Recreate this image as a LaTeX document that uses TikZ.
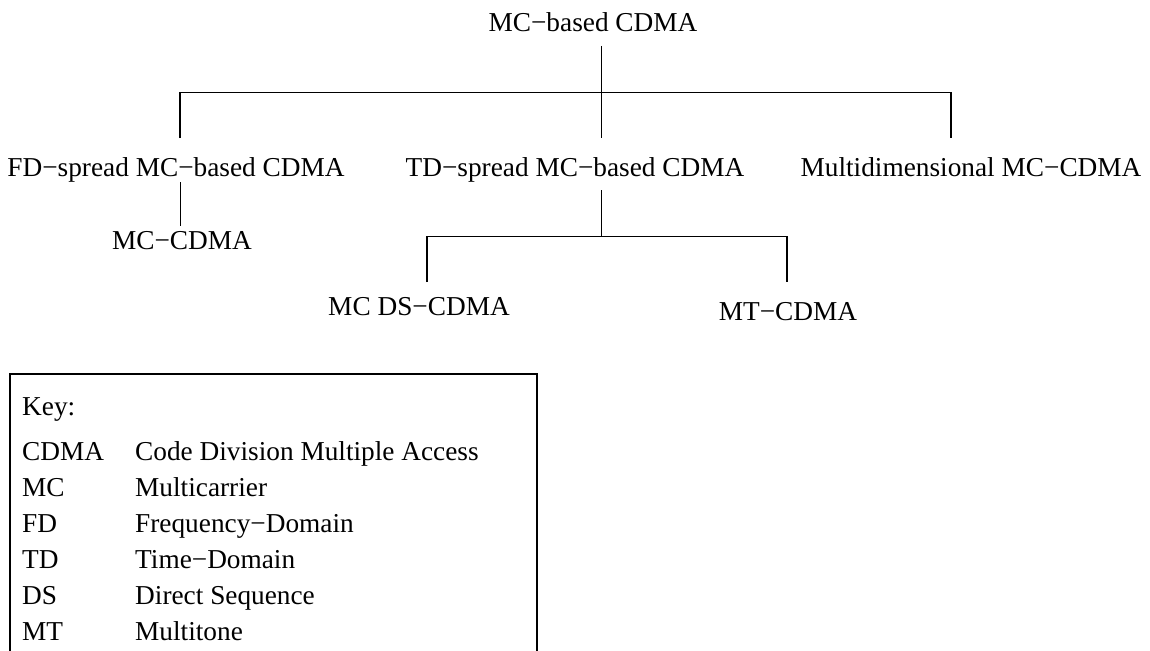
\documentclass[tikz,border=0pt]{standalone}
\usepackage{fontspec}
\setmainfont{Liberation Serif}
\begin{document}
\begin{tikzpicture}[x=1pt,y=-1pt,
  lbl/.style={anchor=base,inner sep=0pt,font=\fontsize{27.3}{32}\selectfont},
  keytxt/.style={anchor=base west,inner sep=0pt,font=\fontsize{27.3}{32}\selectfont},
  link/.style={line width=1.6pt,line join=miter},
  keybox/.style={line width=1.6pt}]
\useasboundingbox (0,0) rectangle (1150,650);

% tree labels
\node[lbl] (root)   at (593,31.7)  {MC−based CDMA};
\node[lbl] (fd)     at (176,176.7) {FD−spread MC−based CDMA};
\node[lbl] (td)     at (575,176.7) {TD−spread MC−based CDMA};
\node[lbl] (md)     at (971,176.7) {Multidimensional MC−CDMA};
\node[lbl] (mccdma) at (182,249)   {MC−CDMA};
\node[lbl] (mcds)   at (419,315)   {MC DS−CDMA};
\node[lbl] (mtcdma) at (788,320)   {MT−CDMA};

% first level branching
\coordinate (r0)    at (601.5,46);
\coordinate (j1)    at (601.5,92.5);
\coordinate (b1l)   at (180,92.5);
\coordinate (b1r)   at (950.7,92.5);
\coordinate (fdtop) at (180,138);
\coordinate (tdtop) at (601.5,138);
\coordinate (mdtop) at (950.7,138);
\draw[link] (r0) -- (j1) -- (tdtop);
\draw[link] (fdtop) -- (b1l) -- (b1r) -- (mdtop);

% FD branch
\coordinate (fdbot) at (180.5,182);
\coordinate (mctop) at (180.5,225.7);
\draw[link] (fdbot) -- (mctop);

% TD branch
\coordinate (tdbot) at (601.5,190);
\coordinate (j2)    at (601.5,236.5);
\coordinate (b2l)   at (426.7,236.5);
\coordinate (b2r)   at (786.7,236.5);
\coordinate (dstop) at (426.7,282);
\coordinate (mttop) at (786.7,282);
\draw[link] (tdbot) -- (j2);
\draw[link] (dstop) -- (b2l) -- (b2r) -- (mttop);

% key box, open at the bottom edge
\draw[keybox] (10,660) -- (10,374) -- (537,374) -- (537,660);
\node[keytxt] (keyhd) at (22,415) {Key:};
\foreach \ab/\txt [count=\i] in {CDMA/Code Division Multiple Access,
    MC/Multicarrier, FD/Frequency−Domain, TD/Time−Domain,
    DS/Direct Sequence, MT/Multitone}{
  \node[keytxt] (ab\i) at (22,424+36*\i) {\ab};
  \node[keytxt] (df\i) at (135,424+36*\i) {\txt};
}
\end{tikzpicture}
\end{document}
